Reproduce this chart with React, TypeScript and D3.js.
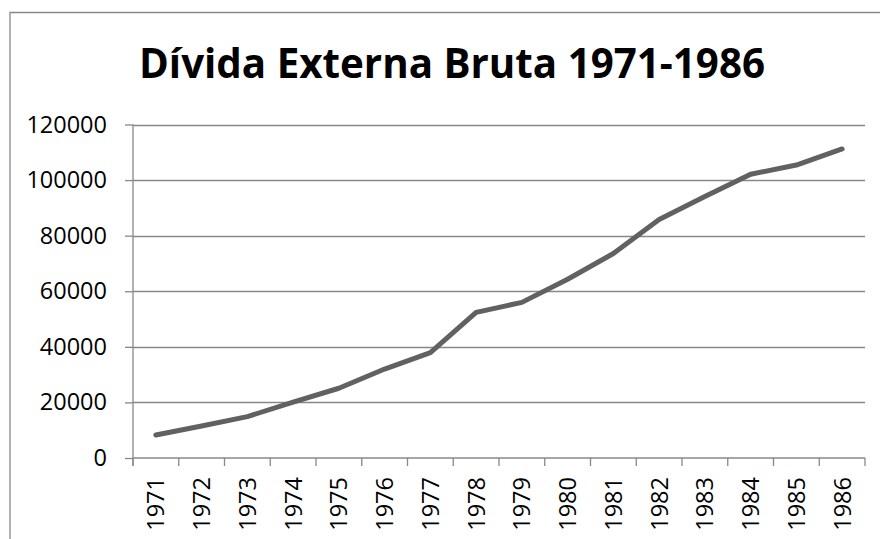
import React, { useEffect, useRef } from "react";
import * as d3 from "d3";

const years = [
    "1971", "1972", "1973", "1974", "1975", "1976", "1977", "1978",
    "1979", "1980", "1981", "1982", "1983", "1984", "1985", "1986",
];
const debt = [
    8300, 11500, 14900, 20100, 25100, 32000, 37900, 52400,
    56000, 64300, 73600, 85800, 94100, 102100, 105400, 111200,
];
const yTicks = [0, 20000, 40000, 60000, 80000, 100000, 120000];
const title = "Dívida Externa Bruta 1971-1986";

const FONT = "'Open Sans', 'Liberation Sans', sans-serif";
const GRID = "#888888";

export default function App() {
    const ref = useRef<SVGSVGElement | null>(null);

    useEffect(() => {
        const svg = d3.select(ref.current);
        svg.selectAll("*").remove();

        const left = 133;
        const right = 865;
        const top = 124.5;
        const bottom = 458;

        const x = d3.scaleBand().domain(years).range([left, right]);
        const y = d3.scaleLinear().domain([0, 120000]).range([bottom, top]);

        // chart frame: only the left and top edges fall inside the picture
        svg.append("path")
            .attr("d", "M10,539V12.5H880")
            .attr("fill", "none")
            .attr("stroke", GRID)
            .attr("stroke-width", 1.3);

        svg.append("text")
            .attr("x", 452)
            .attr("y", 78)
            .attr("text-anchor", "middle")
            .attr("font-family", FONT)
            .attr("font-weight", "bold")
            .attr("font-size", 42)
            .attr("textLength", 626)
            .attr("lengthAdjust", "spacingAndGlyphs")
            .attr("fill", "#000")
            .text(title);

        // y axis with ticks
        const yAxis = d3.axisLeft(y)
            .tickValues(yTicks)
            .tickFormat(d3.format("d"))
            .tickSize(8)
            .tickPadding(18);
        const gy = svg.append("g").attr("transform", `translate(${left},0)`).call(yAxis);
        gy.select(".domain").attr("stroke", GRID).attr("stroke-width", 1.3)
            .attr("d", `M0,${top}V${bottom + 8}`);
        gy.selectAll(".tick line").attr("stroke", GRID).attr("stroke-width", 1.3);
        gy.selectAll(".tick text")
            .attr("font-family", FONT)
            .attr("font-size", 23.5)
            .attr("fill", "#000");

        // horizontal gridlines
        svg.append("g")
            .selectAll("line")
            .data(yTicks.filter((t) => t > 0))
            .join("line")
            .attr("x1", left)
            .attr("x2", right)
            .attr("y1", (d) => Math.round(y(d)) + 0.5)
            .attr("y2", (d) => Math.round(y(d)) + 0.5)
            .attr("stroke", GRID)
            .attr("stroke-width", 1.3);

        // x axis with ticks at category boundaries
        const gx = svg.append("g");
        gx.append("line")
            .attr("x1", left)
            .attr("x2", right)
            .attr("y1", bottom)
            .attr("y2", bottom)
            .attr("stroke", GRID)
            .attr("stroke-width", 1.3);
        const bounds = years.map((d) => x(d) as number).concat([right]);
        gx.selectAll("line.tk")
            .data(bounds)
            .join("line")
            .attr("class", "tk")
            .attr("x1", (d) => d)
            .attr("x2", (d) => d)
            .attr("y1", bottom)
            .attr("y2", bottom + 8)
            .attr("stroke", GRID)
            .attr("stroke-width", 1.3);
        gx.selectAll("text")
            .data(years)
            .join("text")
            .attr("transform", (d) => `translate(${(x(d) as number) + x.bandwidth() / 2},477) rotate(-90)`)
            .attr("dy", "0.36em")
            .attr("text-anchor", "end")
            .attr("font-family", FONT)
            .attr("font-size", 23.5)
            .attr("fill", "#000")
            .text((d) => d);

        const line = d3
            .line<number>()
            .x((_, i) => (x(years[i]) as number) + x.bandwidth() / 2)
            .y((d) => y(d));

        svg.append("path")
            .datum(debt)
            .attr("d", line)
            .attr("fill", "none")
            .attr("stroke", "#616161")
            .attr("stroke-width", 5)
            .attr("stroke-linejoin", "round")
            .attr("stroke-linecap", "round");
    }, []);

    return (
        <svg
            ref={ref}
            width={880}
            height={539}
            style={{ position: "absolute", left: 0, top: 0, background: "white" }}
        />
    );
}
